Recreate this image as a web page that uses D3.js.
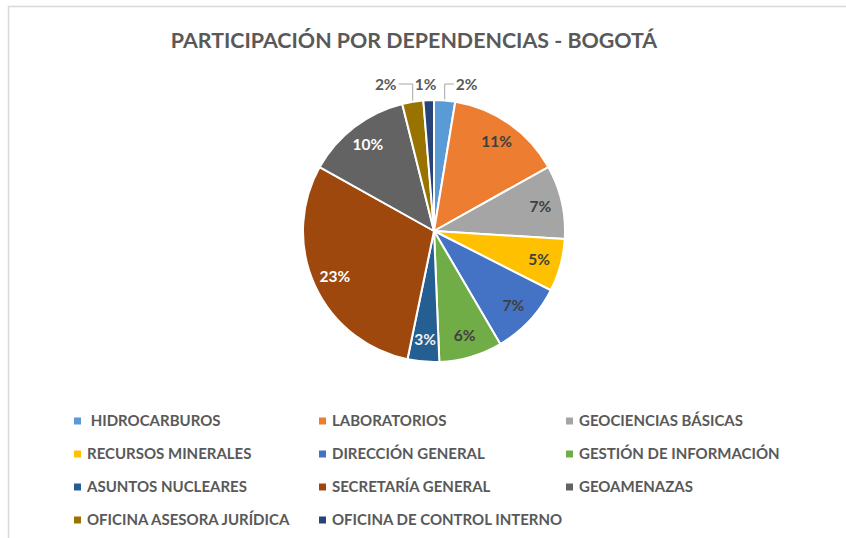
<!DOCTYPE html>
<html>
<head>
<meta charset="utf-8">
<script src="https://cdn.jsdelivr.net/npm/d3@7"></script>
<style>
  html, body { margin: 0; padding: 0; background: #fff; }
  svg { display: block; }
</style>
</head>
<body>
<svg id="chart" width="846" height="538"></svg>
<script>
// Dependencias y su participación (%)
const categories = [
  " HIDROCARBUROS", "LABORATORIOS", "GEOCIENCIAS BÁSICAS",
  "RECURSOS MINERALES", "DIRECCIÓN GENERAL", "GESTIÓN DE INFORMACIÓN",
  "ASUNTOS NUCLEARES", "SECRETARÍA GENERAL", "GEOAMENAZAS",
  "OFICINA ASESORA JURÍDICA", "OFICINA DE CONTROL INTERNO"
];
const values = [2, 11, 7, 5, 7, 6, 3, 23, 10, 2, 1];
const colors = [
  "#5B9BD5", "#ED7D31", "#A5A5A5", "#FFC000", "#4472C4", "#70AD47",
  "#255E91", "#9E480E", "#636363", "#997300", "#264478"
];
// label colour inside each slice
const labelColors = [
  "#404040", "#404040", "#404040", "#404040", "#404040", "#404040",
  "#f2f2f2", "#ffffff", "#ffffff", "#404040", "#404040"
];

const W = 846, H = 538;
const svg = d3.select("#chart");
const font = "Lato, 'Open Sans', sans-serif";

// chart-area frame (top and left edges)
svg.append("path")
  .attr("d", `M8.5,${H} V6.5 H${W}`)
  .attr("fill", "none")
  .attr("stroke", "#d9d9d9")
  .attr("stroke-width", 1.5);

// title
svg.append("text")
  .attr("x", 414).attr("y", 48)
  .attr("text-anchor", "middle")
  .attr("font-family", font)
  .attr("font-weight", 700)
  .attr("font-size", 21.4)
  .attr("fill", "#595959")
  .text("PARTICIPACIÓN POR DEPENDENCIAS - BOGOTÁ");

// pie
const cx = 434, cy = 231, R = 131;
const pie = d3.pie().sort(null).value(d => d.v);
const data = values.map((v, i) => ({ v, i, name: categories[i] }));
const arcs = pie(data);
const arc = d3.arc().innerRadius(0).outerRadius(R);
const labelArc = d3.arc().innerRadius(109).outerRadius(109);

const g = svg.append("g").attr("transform", `translate(${cx},${cy})`);
g.selectAll("path.slice")
  .data(arcs)
  .enter().append("path")
  .attr("class", "slice")
  .attr("d", arc)
  .attr("fill", d => colors[d.data.i])
  .attr("stroke", "#fff")
  .attr("stroke-width", 2)
  .attr("stroke-linejoin", "round");

// small slices get their labels outside with a leader line
const outside = { 0: 22, 9: -27, 10: -3 };
const labelY = -R - 16;
const labelSize = 15.5;

arcs.forEach(d => {
  const i = d.data.i;
  const txt = d.data.v + "%";
  if (i in outside) {
    const mid = (d.startAngle + d.endAngle) / 2;
    const ex = R * Math.sin(mid), ey = -R * Math.cos(mid);
    const lx = ex + outside[i];
    g.append("text")
      .attr("x", lx).attr("y", labelY + 5.5)
      .attr("text-anchor", "middle")
      .attr("font-family", font)
      .attr("font-weight", 700)
      .attr("font-size", labelSize)
      .attr("fill", "#595959")
      .text(txt);
    if (Math.abs(outside[i]) > 10) {
      const side = Math.sign(outside[i]);
      g.append("path")
        .attr("d", `M${ex},${ey - 1} V${labelY} H${lx - side * 13}`)
        .attr("fill", "none")
        .attr("stroke", "#a6a6a6")
        .attr("stroke-width", 1);
    }
  } else {
    const [x, y] = labelArc.centroid(d);
    g.append("text")
      .attr("x", x).attr("y", y + 5.5)
      .attr("text-anchor", "middle")
      .attr("font-family", font)
      .attr("font-weight", 700)
      .attr("font-size", labelSize)
      .attr("fill", labelColors[i])
      .text(txt);
  }
});

// legend: 3 columns x 4 rows
const colX = [74, 319, 566];
const rowY = [421, 454, 487, 520];
const leg = svg.append("g");
data.forEach((d, k) => {
  const col = k % 3, row = Math.floor(k / 3);
  const x = colX[col], y = rowY[row];
  leg.append("rect")
    .attr("x", x).attr("y", y - 3.5)
    .attr("width", 7).attr("height", 7)
    .attr("fill", colors[d.i]);
  leg.append("text")
    .attr("x", x + 13).attr("y", y + 5.2)
    .attr("font-family", font)
    .attr("font-weight", 700)
    .attr("font-size", 15)
    .attr("fill", "#595959")
    .attr("xml:space", "preserve")
    .style("white-space", "pre")
    .text(d.name);
});
</script>
</body>
</html>
